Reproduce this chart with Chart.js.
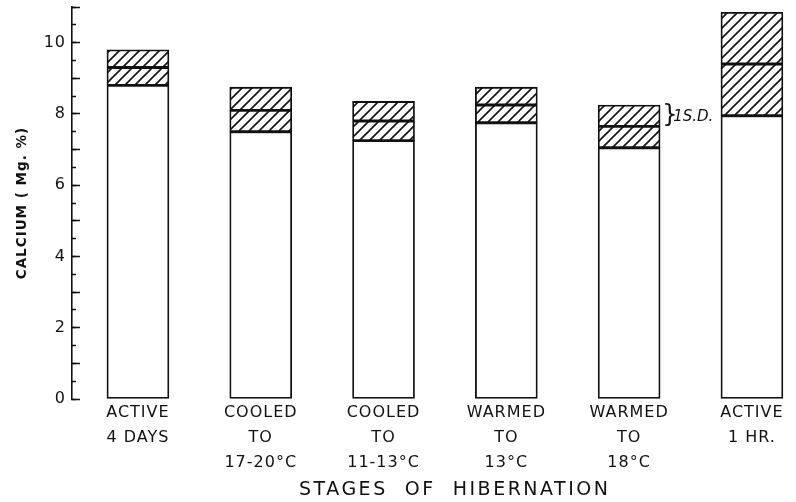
<!DOCTYPE html>
<html><head><meta charset="utf-8">
<script src="https://cdn.jsdelivr.net/npm/chart.js@4.4.1/dist/chart.umd.min.js"></script>
<style>html,body{margin:0;padding:0;background:#fff}#wrap{width:796px;height:502px}</style>
</head><body><div id="wrap"><canvas id="c" width="796" height="502"></canvas></div>
<script>
// ---- data ----
const categories = [
  ["ACTIVE", "4 DAYS"],
  ["COOLED", "TO", "17-20°C"],
  ["COOLED", "TO", "11-13°C"],
  ["WARMED", "TO", "13°C"],
  ["WARMED", "TO", "18°C"],
  ["ACTIVE", "1 HR."]
];
const meanValues = [9.3, 8.1, 7.8, 8.25, 7.65, 9.4];
const upperSD    = [9.8, 8.75, 8.35, 8.75, 8.25, 10.85];
const lowerSD    = [8.8, 7.5, 7.25, 7.75, 7.05, 7.95];
const yTickLabels = [0, 2, 4, 6, 8, 10];
const yAxisTitle = "CALCIUM ( Mg. %)";
const xAxisTitle = "STAGES  OF  HIBERNATION";
const sdLabel = "1S.D.";
const sdLabelIndex = 4;

// ---- hatch pattern ----
function makeHatch() {
  const s = 10;
  const c = document.createElement('canvas');
  c.width = s; c.height = s;
  const g = c.getContext('2d');
  g.fillStyle = '#fff'; g.fillRect(0, 0, s, s);
  g.strokeStyle = '#111'; g.lineWidth = 1.6; g.lineCap = 'square';
  g.beginPath();
  g.moveTo(0, s); g.lineTo(s, 0);
  g.moveTo(-1, 1); g.lineTo(1, -1);
  g.moveTo(s - 1, s + 1); g.lineTo(s + 1, s - 1);
  g.stroke();
  return g.createPattern(c, 'repeat');
}
const ctx = document.getElementById('c').getContext('2d');
const hatch = makeHatch();

const zeros = categories.map(() => 0);
const mk = (lo, hi) => categories.map((_, i) => ({ x: i, y: [lo[i], hi[i]] }));

const spacing = {
  id: 'spacing',
  beforeDraw(chart) { try { chart.ctx.letterSpacing = '1px'; } catch (e) {} },
  beforeDatasetsDraw(chart) { try { chart.ctx.letterSpacing = '0px'; } catch (e) {} }
};

const annotate = {
  id: 'annotate',
  afterDraw(chart) {
    const c = chart.ctx, xs = chart.scales.x, ys = chart.scales.y;
    c.save();
    c.fillStyle = '#111';
    // axis title
    c.font = "19px 'DejaVu Sans'";
    try { c.letterSpacing = '2.5px'; } catch (e) {}
    c.textAlign = 'center'; c.textBaseline = 'middle';
    c.fillText(xAxisTitle, xs.getPixelForValue(2.58), 490);
    try { c.letterSpacing = '0px'; } catch (e) {}
    // SD brace + label
    const i = sdLabelIndex;
    const bx = xs.getPixelForValue(i) + 33;
    const by = ys.getPixelForValue((meanValues[i] + upperSD[i]) / 2);
    c.textAlign = 'left';
    c.font = "24px 'DejaVu Sans'";
    c.fillText('}', bx, by);
    c.font = "italic 15px 'DejaVu Sans'";
    c.fillText(sdLabel, bx + 11, by + 1);
    c.restore();
  }
};

new Chart(ctx, {
  type: 'bar',
  data: {
    datasets: [
      { label: 'base', data: mk(zeros, lowerSD), backgroundColor: '#fff', borderColor: '#111', borderWidth: 1.8, borderSkipped: false },
      { label: 'lower', data: mk(lowerSD, meanValues), backgroundColor: hatch, borderColor: '#111', borderWidth: 1.8, borderSkipped: false },
      { label: 'upper', data: mk(meanValues, upperSD), backgroundColor: hatch, borderColor: '#111', borderWidth: 1.8, borderSkipped: false }
    ]
  },
  options: {
    responsive: false,
    animation: false,
    devicePixelRatio: 1,
    grouped: false,
    barThickness: 62,
    layout: { padding: { left: 0, right: 6, top: 7, bottom: 0 } },
    plugins: { legend: { display: false }, tooltip: { enabled: false } },
    scales: {
      x: {
        type: 'linear',
        position: 'bottom',
        offset: false,
        min: -0.537, max: 5.31,
        grid: { display: false, drawTicks: false, offset: false },
        border: { display: false },
        ticks: {
          stepSize: 1, includeBounds: false, autoSkip: false, maxRotation: 0, padding: 1,
          color: '#111',
          font: { family: "'DejaVu Sans'", size: 16, lineHeight: 1.5625 },
          callback: (v) => Number.isInteger(v) && categories[v] ? categories[v] : ''
        },
        afterFit: (s) => { s.height = 103; s.paddingLeft = 0; s.paddingRight = 0; }
      },
      y: {
        type: 'linear',
        position: 'left',
        weight: 1,
        min: 0, max: 11,
        border: { display: true, color: '#111', width: 1.6 },
        grid: { drawOnChartArea: false, drawTicks: true, tickLength: -8, tickColor: '#111', tickWidth: 1.5 },
        ticks: {
          stepSize: 1, autoSkip: false, padding: 14, color: '#111',
          font: { family: "'DejaVu Sans'", size: 16 },
          callback: (v) => yTickLabels.includes(v) ? String(v) : ''
        },
        title: {
          display: true, text: yAxisTitle, color: '#111',
          font: { family: "'DejaVu Sans'", size: 13.5, weight: 'bold' },
          padding: { top: 14, bottom: 0 }
        },
        afterFit: (s) => { s.width = 72; s.paddingTop = 0; s.paddingBottom = 0; }
      },
      y2: {
        type: 'linear',
        position: 'left',
        weight: 0,
        min: 0, max: 11,
        border: { display: false },
        grid: { drawOnChartArea: false, drawTicks: true, tickLength: -4, tickColor: '#111', tickWidth: 1.5 },
        ticks: { stepSize: 0.5, display: false },
        afterFit: (s) => { s.width = 0; s.paddingTop = 0; s.paddingBottom = 0; }
      }
    }
  },
  plugins: [spacing, annotate]
});
</script>
</body></html>
